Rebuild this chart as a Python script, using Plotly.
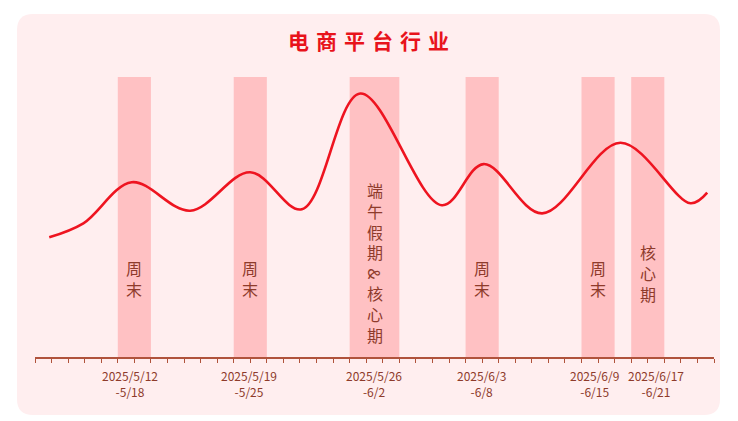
import plotly.graph_objects as go

# ---- data ----
title_text = "电商平台行业"
curve_days = [0.86, 2.92, 5.84, 9.37, 12.99, 16.11, 19.64, 24.57,
              27.09, 30.62, 35.35, 39.58, 40.59]
curve_vals = [42.75, 47.75, 62.4, 52.25, 66.0, 52.75, 94.1, 54.2,
              68.9, 51.3, 76.5, 54.9, 58.7]
band_starts = [5, 12, 19, 26, 33, 36]
band_ends = [7, 14, 22, 28, 35, 38]
band_labels = ["周末", "周末", "端午假期&核心期", "周末", "周末", "核心期"]
tick_days = [5.72, 12.93, 20.48, 26.95, 33.78, 37.5]
tick_labels = ["2025/5/12<br>-5/18", "2025/5/19<br>-5/25", "2025/5/26<br>-6/2",
               "2025/6/3<br>-6/8", "2025/6/9<br>-6/15", "2025/6/17<br>-6/21"]
x_min, x_max = 0, 41

# ---- layout geometry (reference pixels; page body offsets figure by 8px) ----
OFF = 8
W, H = 738 - OFF, 421 - OFF
L, R, T, B = 35 - OFF, 24, 77 - OFF, 64
pw, ph = W - L - R, H - T - B


def px2paper(px, py):
    px -= OFF
    py -= OFF
    return (px - L) / pw, (H - B - py) / ph


FONT = "Noto Sans CJK SC"
TXT = "#8E3B2B"
AXIS = "#B0533C"
RED = "#EE1420"

fig = go.Figure()
fig.add_trace(go.Scatter(
    x=curve_days, y=curve_vals, mode="lines",
    line=dict(color=RED, width=2.6, shape="spline", smoothing=1.0),
    hoverinfo="skip", showlegend=False))

shapes = []
# rounded panel
x0, y0 = px2paper(17, 415)
x1, y1 = px2paper(720, 14)
rx, ry = 16 / pw, 16 / ph
path = (f"M {x0+rx},{y0} L {x1-rx},{y0} Q {x1},{y0} {x1},{y0+ry} "
        f"L {x1},{y1-ry} Q {x1},{y1} {x1-rx},{y1} L {x0+rx},{y1} "
        f"Q {x0},{y1} {x0},{y1-ry} L {x0},{y0+ry} Q {x0},{y0} {x0+rx},{y0} Z")
shapes.append(dict(type="path", path=path, xref="paper", yref="paper",
                   fillcolor="#FFEEEF", line=dict(width=0), layer="below"))
for s, e in zip(band_starts, band_ends):
    shapes.append(dict(type="rect", xref="x", yref="paper", x0=s, x1=e, y0=0, y1=1,
                       fillcolor="#FFC1C3", line=dict(width=0), layer="below"))

annotations = []
# title
tx, ty = px2paper(368, 40)
annotations.append(dict(text="<b>" + "\u2004".join(title_text) + "</b>", x=tx, y=ty,
                        xref="paper", yref="paper", showarrow=False,
                        font=dict(family=FONT, size=21, color="#E8131B"),
                        xanchor="center", yanchor="middle"))
# band labels
for s, e, lab in zip(band_starts, band_ends, band_labels):
    cx = (s + e) / 2
    if "&" in lab:
        a, b = lab.split("&")
        parts = [(a, 221), ("&", 274), (b, 314)]
        for txt, py in parts:
            _, yy = px2paper(0, py)
            annotations.append(dict(
                text="<br>".join(txt), x=cx, y=yy, xref="x", yref="paper", showarrow=False,
                textangle=90 if txt == "&" else 0,
                font=dict(family=FONT, size=16, color=TXT), xanchor="center", yanchor="middle"))
    else:
        py = 278 if len(lab) == 2 else 273
        _, yy = px2paper(0, py)
        annotations.append(dict(
            text="<br>".join(lab), x=cx, y=yy, xref="x", yref="paper", showarrow=False,
            font=dict(family=FONT, size=16, color=TXT), xanchor="center", yanchor="middle"))
# tick labels
_, ly = px2paper(0, 383.5)
for d, t in zip(tick_days, tick_labels):
    annotations.append(dict(text=t, x=d, y=ly, xref="x", yref="paper", showarrow=False,
                            font=dict(family=FONT, size=12, color=TXT),
                            xanchor="center", yanchor="middle"))

fig.update_layout(
    width=W, height=H, margin=dict(l=L, r=R, t=T, b=B),
    paper_bgcolor="white", plot_bgcolor="rgba(0,0,0,0)",
    shapes=shapes, annotations=annotations, showlegend=False,
    xaxis=dict(range=[x_min, x_max], tick0=0, dtick=1, ticks="outside", ticklen=4,
               tickwidth=1.3, tickcolor=AXIS, showticklabels=False, showline=True,
               linecolor=AXIS, linewidth=1.5, showgrid=False, zeroline=False, fixedrange=True),
    yaxis=dict(range=[0, 100], visible=False, fixedrange=True),
)
fig.write_html("out.html", config={"displayModeBar": False})
